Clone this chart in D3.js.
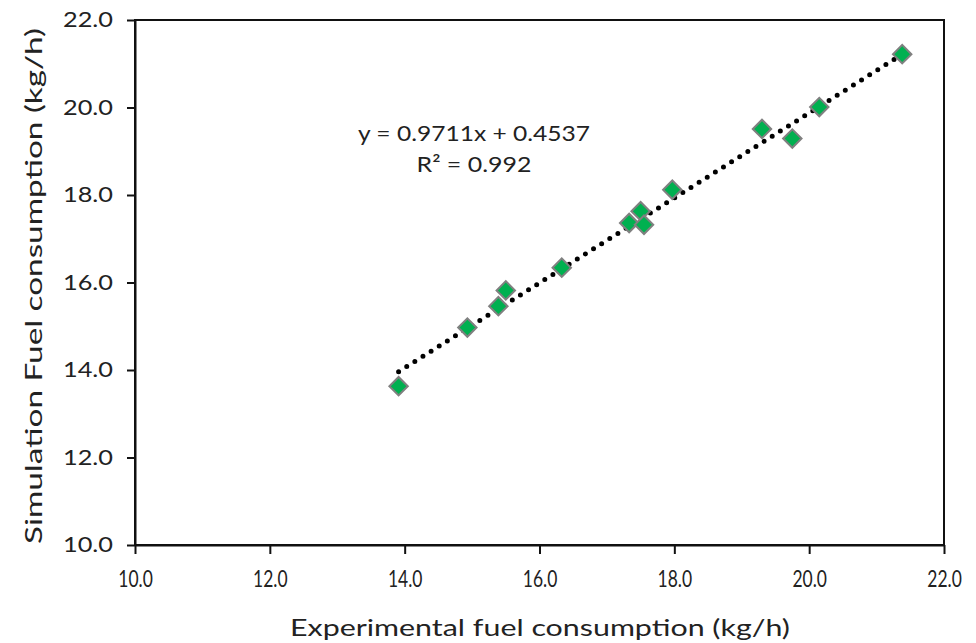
<!DOCTYPE html>
<html>
<head>
<meta charset="utf-8">
<script src="https://cdn.jsdelivr.net/npm/d3@7"></script>
<style>
  body { margin: 0; background: #fff; }
  svg text { font-family: Lato, "Open Sans", sans-serif; fill: #222; }
</style>
</head>
<body>
<div id="chart"></div>
<script>
'use strict';

// measured fuel consumption (kg/h)
var experimental = [13.91, 14.93, 15.39, 15.50, 16.33, 17.33, 17.50, 17.55, 17.97, 19.30, 19.75, 20.15, 21.38];
var simulation   = [13.63, 14.97, 15.46, 15.82, 16.34, 17.36, 17.63, 17.32, 18.12, 19.51, 19.29, 20.01, 21.22];
var tickValues = [10, 12, 14, 16, 18, 20, 22];
var slope = 0.9711, intercept = 0.4537;
var eqLines = ['y = 0.9711x + 0.4537', 'R\u00b2 = 0.992'];

var width = 976, height = 643;
var margin = {top: 20, right: 32, bottom: 98, left: 135};

var svg = d3.select('#chart').append('svg')
    .attr('width', width)
    .attr('height', height);

var x = d3.scaleLinear().domain([10, 22]).range([margin.left, width - margin.right]);
var y = d3.scaleLinear().domain([10, 22]).range([height - margin.bottom, margin.top]);

// frame
svg.append('rect')
    .attr('x', x(10)).attr('y', y(22))
    .attr('width', x(22) - x(10)).attr('height', y(10) - y(22))
    .style('fill', 'none').style('stroke', '#111').style('stroke-width', 2);

var xAxis = svg.append('g')
    .attr('transform', 'translate(0,' + y(10) + ')')
    .call(d3.axisBottom(x).tickValues(tickValues).tickSize(9).tickSizeOuter(0).tickFormat(d3.format('.1f')));
xAxis.attr('font-size', null).attr('font-family', null);
xAxis.select('.domain').style('stroke', '#111').style('stroke-width', 2);
xAxis.selectAll('line').style('stroke', '#111').style('stroke-width', 2);
xAxis.selectAll('text')
    .attr('y', 26).attr('dy', '0.71em')
    .attr('transform', 'scale(0.76,1)')
    .style('font-size', '23px');

var yAxis = svg.append('g')
    .attr('transform', 'translate(' + x(10) + ',0)')
    .call(d3.axisLeft(y).tickValues(tickValues).tickSize(8).tickSizeOuter(0).tickFormat(d3.format('.1f')));
yAxis.attr('font-size', null).attr('font-family', null);
yAxis.select('.domain').style('stroke', '#111').style('stroke-width', 2);
yAxis.selectAll('line').style('stroke', '#111').style('stroke-width', 2);
yAxis.selectAll('text')
    .attr('x', -22)
    .style('font-size', '21px')
    .attr('textLength', 50).attr('lengthAdjust', 'spacingAndGlyphs');

// axis titles
svg.append('text')
    .attr('x', 540).attr('y', 636)
    .attr('text-anchor', 'middle')
    .style('font-size', '24px')
    .attr('textLength', 500).attr('lengthAdjust', 'spacingAndGlyphs')
    .text('Experimental fuel consumption (kg/h)');

svg.append('text')
    .attr('transform', 'translate(42,' + 286 + ') rotate(-90)')
    .attr('text-anchor', 'middle')
    .style('font-size', '24px')
    .attr('textLength', 516).attr('lengthAdjust', 'spacingAndGlyphs')
    .text('Simulation Fuel consumption (kg/h)');

// trend line over the data range
var xs = d3.extent(experimental);
svg.append('line')
    .attr('x1', x(xs[0])).attr('y1', y(slope * xs[0] + intercept))
    .attr('x2', x(xs[1])).attr('y2', y(slope * xs[1] + intercept))
    .style('stroke', '#000')
    .style('stroke-width', 5)
    .style('stroke-linecap', 'round')
    .style('stroke-dasharray', '0 9.6');

// diamonds
var pts = experimental.map(function(d, i) { return [d, simulation[i]]; });
svg.append('g').selectAll('path')
    .data(pts)
  .enter().append('path')
    .attr('d', d3.symbol().type(d3.symbolSquare).size(170))
    .attr('transform', function(d) { return 'translate(' + x(d[0]) + ',' + y(d[1]) + ') rotate(45)'; })
    .style('fill', '#00b050')
    .style('stroke', '#808080')
    .style('stroke-width', 2);

// equation
svg.append('g').selectAll('text')
    .data(eqLines)
  .enter().append('text')
    .attr('x', 474)
    .attr('y', function(d, i) { return 141 + i * 31; })
    .attr('text-anchor', 'middle')
    .style('font-size', '22px')
    .attr('textLength', function(d, i) { return i === 0 ? 232 : 115; })
    .attr('lengthAdjust', 'spacingAndGlyphs')
    .text(function(d) { return d; });
</script>
</body>
</html>
